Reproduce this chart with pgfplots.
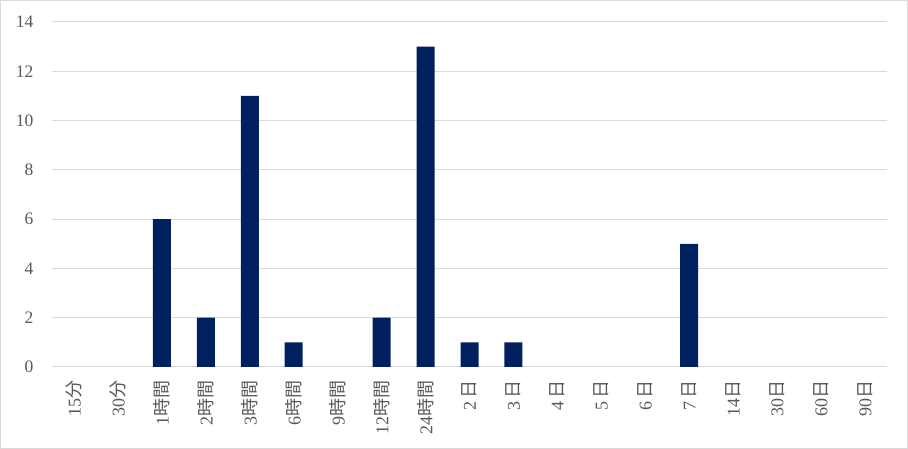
\documentclass[border=0pt]{standalone}
\usepackage{pgfplots}
\pgfplotsset{compat=1.18}
\usepackage{fontspec}
\setmainfont{Liberation Serif}
\newfontfamily\cjk{Noto Sans CJK JP}
\definecolor{barc}{HTML}{002060}
\definecolor{gridc}{HTML}{D9D9D9}
\definecolor{txt}{HTML}{595959}
\begin{document}
\begin{tikzpicture}
\path[use as bounding box] (-52pt,-82pt) rectangle (856pt,367pt);
\draw[gridc, line width=1pt] (-51.5pt,-81.5pt) rectangle (855.5pt,366.5pt);
\begin{axis}[
  at={(0pt,0pt)}, anchor=south west,
  scale only axis, width=835pt, height=345pt,
  xmin=-0.5, xmax=18.5, ymin=0, ymax=14,
  ytick={0,2,...,14},
  xtick={0,...,18},
  xticklabels={15{\cjk 分},30{\cjk 分},1{\cjk 時間},2{\cjk 時間},3{\cjk 時間},6{\cjk 時間},9{\cjk 時間},12{\cjk 時間},24{\cjk 時間},2\,{\cjk 日},3\,{\cjk 日},4\,{\cjk 日},5\,{\cjk 日},6\,{\cjk 日},7\,{\cjk 日},14{\cjk 日},30{\cjk 日},60{\cjk 日},90{\cjk 日}},
  x tick label style={rotate=90, anchor=east, xshift=-10pt, font=\fontsize{18}{18}\selectfont},
  y tick label style={xshift=-15pt, font=\fontsize{17.5}{17.5}\selectfont},
  /pgf/number format/assume math mode=true,
  tick label style={text=txt},
  axis line style={draw=none},
  axis x line*=bottom,
  axis y line*=left,
  ymajorgrids, grid style={gridc, line width=1pt},
  major tick length=0pt,
  ybar, bar width=18pt,
  clip=false,
  unbounded coords=discard,
]
\addplot[fill=barc, draw=none, y filter/.expression={y==0 ? nan : y}] coordinates {
(0,0) (1,0) (2,6) (3,2) (4,11) (5,1) (6,0) (7,2) (8,13) (9,1) (10,1) (11,0) (12,0) (13,0) (14,5) (15,0) (16,0) (17,0) (18,0)};
\end{axis}
\end{tikzpicture}
\end{document}
